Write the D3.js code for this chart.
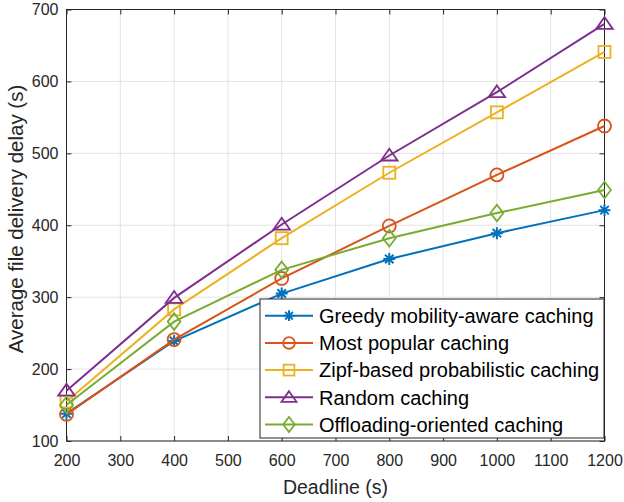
<!DOCTYPE html>
<html>
<head>
<meta charset="utf-8">
<script src="https://cdn.jsdelivr.net/npm/d3@7"></script>
<style>
  body { margin: 0; background: #fff; }
  svg { font-family: "Liberation Sans", Arial, sans-serif; }
</style>
</head>
<body>
<div class="chart"></div>
<script>
const deadlines = [200, 400, 600, 800, 1000, 1200];
const seriesNames = [
  "Greedy mobility-aware caching",
  "Most popular caching",
  "Zipf-based probabilistic caching",
  "Random caching",
  "Offloading-oriented caching"
];
const greedy = [138, 239, 305, 353, 389, 421];
const mostPopular = [137, 241, 326, 399, 470, 538];
const zipf = [155, 283, 382, 473, 557, 641];
const randomCaching = [170, 299, 401, 497, 585, 680];
const offloading = [150, 266, 338, 382, 417, 449];
const xTicks = [200, 300, 400, 500, 600, 700, 800, 900, 1000, 1100, 1200];
const yTicks = [100, 200, 300, 400, 500, 600, 700];

const colors = ["#0072BD", "#D95319", "#EDB120", "#7E2F8E", "#77AC30"];
const markers = ["star", "circle", "square", "triangle", "diamond"];
const allValues = [greedy, mostPopular, zipf, randomCaching, offloading];

const margin = { top: 9.5, right: 19.5, bottom: 61, left: 66.5 };
const W = 624, H = 502;
const width = W - margin.left - margin.right,
  height = H - margin.top - margin.bottom;

const svg = d3.select(".chart").append("svg")
  .attr("width", W).attr("height", H);
const g = svg.append("g")
  .attr("transform", "translate(" + margin.left + "," + margin.top + ")");

const x = d3.scaleLinear().domain([200, 1200]).range([0, width]);
const y = d3.scaleLinear().domain([100, 700]).range([height, 0]);

// grid
g.append("g").selectAll("line").data(xTicks).join("line")
  .attr("x1", d => x(d)).attr("x2", d => x(d))
  .attr("y1", 0).attr("y2", height)
  .attr("stroke", "#e3e3e3").attr("stroke-width", 1);
g.append("g").selectAll("line").data(yTicks).join("line")
  .attr("y1", d => y(d)).attr("y2", d => y(d))
  .attr("x1", 0).attr("x2", width)
  .attr("stroke", "#e3e3e3").attr("stroke-width", 1);

// axes (ticks inward, all sides)
const axisColor = "#262626";
const fmt = d3.format("d");
function styleAxis(sel) {
  sel.select(".domain").remove();
  sel.selectAll(".tick line").attr("stroke", axisColor);
  sel.selectAll(".tick text").attr("fill", axisColor).attr("font-size", "16px");
}
g.append("g").attr("transform", `translate(0,${height})`)
  .call(d3.axisBottom(x).tickValues(xTicks).tickFormat(fmt).tickSizeInner(-5).tickSizeOuter(0).tickPadding(13.5))
  .call(styleAxis);
g.append("g")
  .call(d3.axisTop(x).tickValues(xTicks).tickSizeInner(-5).tickSizeOuter(0).tickFormat(""))
  .call(styleAxis);
g.append("g")
  .call(d3.axisLeft(y).tickValues(yTicks).tickFormat(fmt).tickSizeInner(-5).tickSizeOuter(0).tickPadding(8))
  .call(styleAxis);
g.append("g").attr("transform", `translate(${width},0)`)
  .call(d3.axisRight(y).tickValues(yTicks).tickSizeInner(-5).tickSizeOuter(0).tickFormat(""))
  .call(styleAxis);
g.append("rect").attr("width", width).attr("height", height)
  .attr("fill", "none").attr("stroke", axisColor).attr("stroke-width", 1);

// marker drawing
function drawMarker(sel, type, color, k) {
  if (type === "circle") {
    sel.append("circle").attr("r", 6.5 * k).attr("fill", "none")
      .attr("stroke", color).attr("stroke-width", 1.8);
  } else if (type === "square") {
    const h = 6 * k;
    sel.append("rect").attr("x", -h).attr("y", -h)
      .attr("width", 2 * h).attr("height", 2 * h)
      .attr("fill", "none").attr("stroke", color).attr("stroke-width", 1.8);
  } else if (type === "triangle") {
    sel.append("path")
      .attr("d", `M0,${-6.8 * k}L${8.3 * k},${5 * k}L${-8.3 * k},${5 * k}Z`)
      .attr("fill", "none").attr("stroke", color).attr("stroke-width", 1.8)
      .attr("stroke-linejoin", "miter");
  } else if (type === "diamond") {
    sel.append("path")
      .attr("d", `M0,${-8.3 * k}L${6.4 * k},0L0,${8.3 * k}L${-6.4 * k},0Z`)
      .attr("fill", "none").attr("stroke", color).attr("stroke-width", 1.8);
  } else if (type === "star") {
    const r = 6 * k;
    let d = "";
    for (let a = 0; a < 4; a++) {
      const t = a * Math.PI / 4;
      d += `M${-r * Math.cos(t)},${-r * Math.sin(t)}L${r * Math.cos(t)},${r * Math.sin(t)}`;
    }
    sel.append("path").attr("d", d).attr("stroke", color).attr("stroke-width", 2);
  }
}

const line = d3.line().x((d, i) => x(deadlines[i])).y(d => y(d));

allValues.forEach((vals, si) => {
  g.append("path").datum(vals)
    .attr("d", line)
    .attr("fill", "none")
    .attr("stroke", colors[si])
    .attr("stroke-width", 2);
  vals.forEach((v, i) => {
    const m = g.append("g").attr("transform", `translate(${x(deadlines[i])},${y(v)})`);
    drawMarker(m, markers[si], colors[si], 1);
  });
});

// axis labels
svg.append("text")
  .attr("x", margin.left + width / 2).attr("y", 494)
  .attr("text-anchor", "middle").attr("font-size", "19.5px").attr("fill", axisColor)
  .text("Deadline (s)");
svg.append("text")
  .attr("transform", "translate(23,219) rotate(-90)")
  .attr("text-anchor", "middle").attr("font-size", "20.5px").attr("fill", axisColor)
  .text("Average file delivery delay (s)");

// legend
const lg = svg.append("g").attr("transform", "translate(260,299)");
lg.append("rect").attr("width", 344).attr("height", 139)
  .attr("fill", "#fff").attr("stroke", axisColor).attr("stroke-width", 1);
seriesNames.forEach((name, i) => {
  const yy = 16.7 + i * 27.2;
  const row = lg.append("g").attr("transform", `translate(0,${yy})`);
  row.append("line").attr("x1", 5).attr("x2", 53).attr("y1", 0).attr("y2", 0)
    .attr("stroke", colors[i]).attr("stroke-width", 2);
  const m = row.append("g").attr("transform", "translate(29,0)");
  drawMarker(m, markers[i], colors[i], 0.9);
  row.append("text").attr("x", 59).attr("y", 7.3)
    .attr("font-size", "20px").attr("fill", "#000").text(name);
});
</script>
</body>
</html>
